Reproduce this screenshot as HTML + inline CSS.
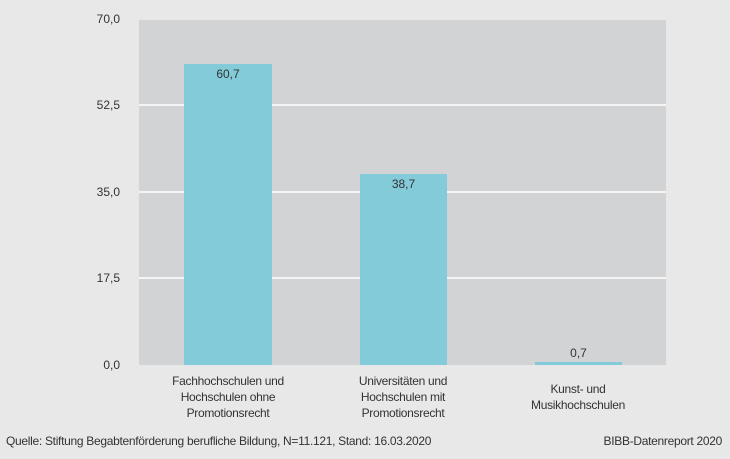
<!DOCTYPE html>
<html><head><meta charset="utf-8"><style>
body{margin:0;width:730px;height:459px;background:#e8e8e9;position:relative;overflow:hidden;font-family:"Liberation Sans Narrow","Liberation Sans",sans-serif;color:#333;font-size:12px}
.a{position:absolute}
.yl{position:absolute;right:610px;text-align:right;width:60px}
.g{position:absolute;left:139px;width:527px;height:2px;background:#f4f4f4}
.bar{position:absolute;background:#83cbd9;text-align:center}
.cl{position:absolute;text-align:center;width:180px;line-height:16px;letter-spacing:-0.3px}
</style></head><body>
<div class="a" style="left:139px;top:20px;width:527px;height:345px;background:#d2d3d5"></div>
<div class="g" style="top:104px"></div>
<div class="g" style="top:191px"></div>
<div class="g" style="top:277px"></div>
<div class="yl" style="top:12px">70,0</div>
<div class="yl" style="top:98px">52,5</div>
<div class="yl" style="top:185px">35,0</div>
<div class="yl" style="top:271px">17,5</div>
<div class="yl" style="top:358px">0,0</div>
<div class="bar" style="left:184px;width:88px;top:64px;height:301px"><div style="margin-top:3px">60,7</div></div>
<div class="bar" style="left:360px;width:87px;top:174px;height:191px"><div style="margin-top:3px">38,7</div></div>
<div class="bar" style="left:535px;width:87px;top:362px;height:3px"></div>
<div class="a" style="left:535px;width:87px;top:346px;text-align:center">0,7</div>
<div class="cl" style="left:138px;top:373px">Fachhochschulen und<br>Hochschulen ohne<br>Promotionsrecht</div>
<div class="cl" style="left:313px;top:373px">Universitäten und<br>Hochschulen mit<br>Promotionsrecht</div>
<div class="cl" style="left:488px;top:381px">Kunst- und<br>Musikhochschulen</div>
<div class="a" style="left:6px;top:434px;letter-spacing:-0.3px">Quelle: Stiftung Begabtenförderung berufliche Bildung, N=11.121, Stand: 16.03.2020</div>
<div class="a" style="right:8px;top:434px;letter-spacing:-0.3px">BIBB-Datenreport 2020</div>
</body></html>
